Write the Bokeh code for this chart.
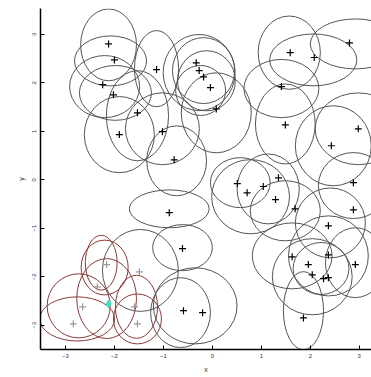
from bokeh.plotting import figure
from bokeh.embed import file_html
from bokeh.resources import INLINE
from bokeh.models import FixedTicker

# Black points
pts_x = [-2.12, -2.00, -1.14, -2.24, -2.02, -1.53, -1.90, -1.02, -0.78,
         -0.33, -0.27, -0.18, -0.04, 0.08,
         1.59, 2.08, 2.80, 1.41, 1.49, 2.98, 2.43, 2.88,
         0.51, 1.04, 1.35, 0.71, 1.29, 1.69, 2.88, 2.37,
         1.63, 1.96, 2.37, 2.04, 2.27, 2.37, 2.92, 1.86,
         -0.61, -0.59, -0.20, -0.88]
pts_y = [2.80, 2.47, 2.27, 1.96, 1.75, 1.38, 0.93, 0.99, 0.41,
         2.41, 2.25, 2.12, 1.90, 1.46,
         2.62, 2.52, 2.82, 1.92, 1.13, 1.05, 0.70, -0.06,
         -0.08, -0.14, 0.04, -0.27, -0.41, -0.60, -0.62, -0.95,
         -1.59, -1.75, -1.55, -1.96, -2.04, -2.02, -1.75, -2.85,
         -1.42, -2.70, -2.74, -0.68]

# Gray points (lower-left group)
grp_x = [-2.16, -1.49, -2.35, -2.65, -2.84, -1.59, -1.53]
grp_y = [-1.75, -1.90, -2.21, -2.62, -2.97, -2.62, -2.97]

# Highlighted point
hl_x = [-2.12]
hl_y = [-2.56]

# Dark ellipses: centre x, centre y, width, height (data units)
ell_x = [-2.12, -2.08, -2.20, -1.98, -1.90, -1.53, -1.14, -1.02, -0.73,
         -0.27, -0.18, -0.12, -0.24, 0.08,
         1.57, 2.92, 2.06, 1.41, 1.49, 2.98, 2.47, 2.88,
         0.78, 1.14, 1.49, 2.41, 0.57,
         1.63, 2.37, 2.04, 1.86, 2.92, 2.22,
         -0.88, -0.61, -0.35, -1.47, -0.65]
ell_y = [2.78, 2.45, 1.92, 1.79, 0.93, 1.32, 2.29, 1.05, 0.39,
         2.21, 2.25, 2.04, 1.84, 1.38,
         2.62, 2.80, 2.47, 1.88, 1.15, 1.05, 0.70, -0.12,
         -0.35, -0.19, -0.64, -0.89, -0.06,
         -1.57, -1.57, -2.00, -2.70, -1.71, -1.83,
         -0.60, -1.40, -2.60, -1.87, -2.74]
ell_w = [1.14, 1.47, 1.43, 1.47, 1.43, 1.27, 0.90, 1.51, 1.22,
         1.47, 1.27, 1.18, 1.02, 1.43,
         1.27, 1.84, 1.78, 1.53, 1.22, 1.76, 1.55, 1.43,
         1.59, 1.27, 1.43, 1.43, 1.22,
         1.63, 1.63, 1.63, 0.82, 1.22, 1.14,
         1.63, 1.22, 1.71, 1.55, 1.22]
ell_h = [1.48, 1.03, 1.28, 1.13, 1.57, 1.86, 1.57, 1.48, 1.44,
         1.57, 1.36, 1.24, 1.03, 1.65,
         1.51, 1.03, 1.07, 1.20, 1.65, 1.48, 1.65, 1.36,
         1.53, 1.44, 1.24, 1.44, 1.03,
         1.36, 1.65, 1.57, 1.61, 1.44, 1.07,
         0.78, 0.95, 1.57, 1.69, 1.44]

# Red ellipses (lower-left group)
red_x = [-2.20, -2.27, -2.73, -2.76, -1.55, -1.53, -2.16]
red_y = [-1.81, -1.71, -2.60, -2.87, -2.62, -2.87, -2.45]
red_w = [0.96, 0.65, 1.29, 1.53, 0.86, 0.98, 1.22]
red_h = [1.13, 1.13, 1.32, 0.91, 1.30, 1.03, 1.65]

x_ticks = [-3, -2, -1, 0, 1, 2, 3]
y_ticks = [-3, -2, -1, 0, 1, 2, 3]

p = figure(width=371, height=376, x_range=(-3.51, 3.25), y_range=(-3.5, 3.53),
           output_backend="svg", toolbar_location=None,
           min_border_left=40, min_border_right=0, min_border_top=8, min_border_bottom=27)
p.outline_line_color = None
p.xgrid.visible = False
p.ygrid.visible = False
p.background_fill_color = "white"

p.ellipse(x=ell_x, y=ell_y, width=ell_w, height=ell_h, fill_color=None,
          line_color="#555555", line_width=1)
p.ellipse(x=red_x, y=red_y, width=red_w, height=red_h, fill_color=None,
          line_color="#8b3a3a", line_width=1)
p.scatter(x=pts_x, y=pts_y, marker="cross", size=7, line_color="black", line_width=1.2)
p.scatter(x=grp_x, y=grp_y, marker="cross", size=7, line_color="#999999", line_width=1.2)
p.scatter(x=hl_x, y=hl_y, marker="diamond", size=8, fill_color="#40e0c0",
          line_color="#40e0c0")

for ax in (p.xaxis[0], p.yaxis[0]):
    ax.major_tick_in = 4
    ax.major_tick_out = 0
    ax.minor_tick_in = 0
    ax.minor_tick_out = 0
    ax.axis_line_color = "black"
    ax.axis_line_width = 1.5
    ax.major_tick_line_color = "black"
    ax.major_label_text_font_size = "6px"
    ax.major_label_text_color = "#333333"
    ax.axis_label_text_font_size = "7px"
    ax.axis_label_text_font_style = "normal"
    ax.axis_label_text_color = "#333333"

p.xaxis.ticker = FixedTicker(ticks=x_ticks)
p.yaxis.ticker = FixedTicker(ticks=y_ticks)
p.xaxis.axis_label = "x"
p.yaxis.axis_label = "y"
p.yaxis.major_label_orientation = "vertical"
p.xaxis.major_label_standoff = 4
p.yaxis.major_label_standoff = 4

open("out.html", "w").write(file_html(p, INLINE))
